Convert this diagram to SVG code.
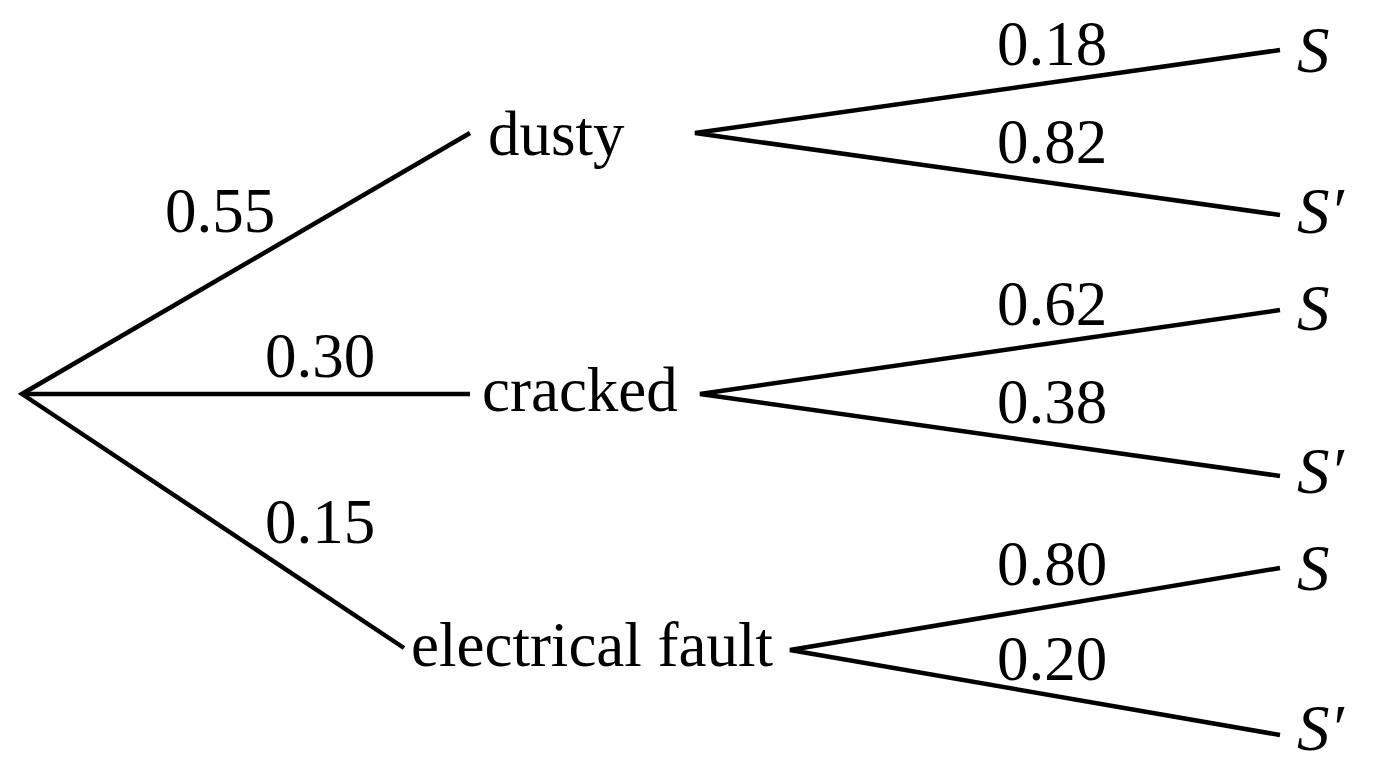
<svg xmlns="http://www.w3.org/2000/svg" width="1376" height="768" viewBox="0 0 1376 768">
<style>
.t{font-family:"Liberation Serif","Times New Roman",serif;font-size:63px;fill:#000}
.i{font-style:italic;font-size:65px}
.e{stroke:#000;stroke-width:4.5;fill:none;stroke-linecap:butt;stroke-linejoin:miter}
</style>
<rect width="1376" height="768" fill="#fff"/>
<g id="connectors">
<polyline class="e" points="470,133 22,394 404,648"/>
<line class="e" x1="22" y1="394" x2="470" y2="394"/>
<polyline class="e" points="1280,50 695,133 1280,215"/>
<polyline class="e" points="1280,310 700,394 1280,476"/>
<polyline class="e" points="1280,568 790,650 1280,735"/>
</g>
<g id="edge-labels">
<text class="t" x="165" y="232">0.55</text>
<text class="t" x="265" y="377">0.30</text>
<text class="t" x="265" y="543">0.15</text>
<text class="t" x="997" y="65">0.18</text>
<text class="t" x="997" y="163">0.82</text>
<text class="t" x="997" y="325">0.62</text>
<text class="t" x="997" y="423">0.38</text>
<text class="t" x="997" y="585">0.80</text>
<text class="t" x="997" y="680">0.20</text>
</g>
<g id="dusty"><text class="t" x="488" y="155">dusty</text></g>
<g id="cracked"><text class="t" x="482" y="411">cracked</text></g>
<g id="electrical-fault"><text class="t" x="411" y="666">electrical fault</text></g>
<g id="dusty-S"><text class="t i" x="1297" y="72">S</text></g>
<g id="dusty-Sp"><text class="t i" x="1297" y="233">S′</text></g>
<g id="cracked-S"><text class="t i" x="1297" y="330">S</text></g>
<g id="cracked-Sp"><text class="t i" x="1297" y="493">S′</text></g>
<g id="fault-S"><text class="t i" x="1297" y="590">S</text></g>
<g id="fault-Sp"><text class="t i" x="1297" y="750">S′</text></g>
</svg>
